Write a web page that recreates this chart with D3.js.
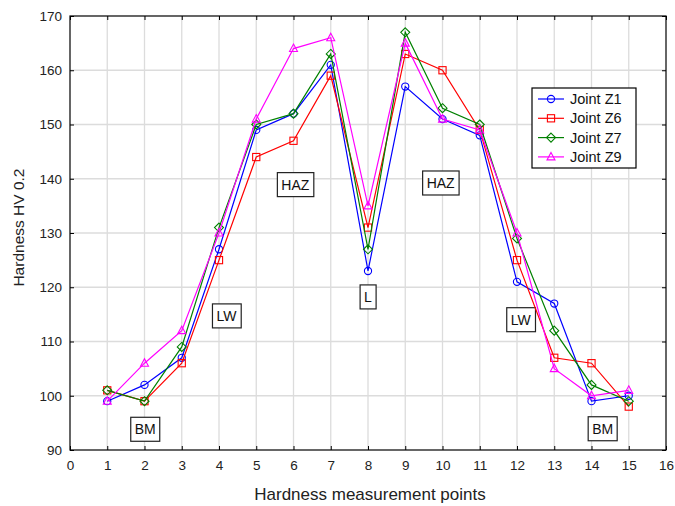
<!DOCTYPE html>
<meta charset="utf-8">
<script src="https://d3js.org/d3.v7.min.js"></script>
<style>
  body { margin: 0; background: #fff; }
  text { font-family: "Liberation Sans", Arial, sans-serif; }
</style>
<div id="my_dataviz"></div>
<script>
    // data
    var points = [1, 2, 3, 4, 5, 6, 7, 8, 9, 10, 11, 12, 13, 14, 15];
    var z1 = [99, 102, 107, 127, 149, 152, 161, 123, 157, 151, 148, 121, 117, 99, 100];
    var z6 = [101, 99, 106, 125, 144, 147, 159, 131, 163, 160, 149, 125, 107, 106, 98];
    var z7 = [101, 99, 109, 131, 150, 152, 163, 127, 167, 153, 150, 129, 112, 102, 99];
    var z9 = [99, 106, 112, 130, 151, 164, 166, 135, 165, 151, 149, 130, 105, 100, 101];
    var seriesNames = ["Joint Z1", "Joint Z6", "Joint Z7", "Joint Z9"];
    var xTicks = d3.range(0, 17);
    var yTicks = [90, 100, 110, 120, 130, 140, 150, 160, 170];
    // zone labels: [x, y, text]
    var zones = [[2.02, 93.8, "BM"], [4.2, 114.7, "LW"], [6.05, 138.9, "HAZ"], [8, 118.2, "L"],
                 [9.95, 139.2, "HAZ"], [12.1, 114.0, "LW"], [14.3, 93.9, "BM"]];

    var margin = { top: 16, right: 9, bottom: 56, left: 70 },
        width = 675 - margin.left - margin.right,
        height = 506 - margin.top - margin.bottom;

    var svg = d3.select("#my_dataviz")
        .append("svg")
        .attr("width", 675)
        .attr("height", 506)
        .append("g")
        .attr("transform", "translate(" + margin.left + "," + margin.top + ")");

    var x = d3.scaleLinear().domain([0, 16]).range([0, width]);
    var y = d3.scaleLinear().domain([90, 170]).range([height, 0]);

    // grid
    svg.append("g").selectAll("line").data(xTicks.slice(1, -1)).enter().append("line")
        .attr("x1", d => x(d)).attr("x2", d => x(d)).attr("y1", 0).attr("y2", height)
        .attr("stroke", "#dcdcdc").attr("stroke-width", 1.3);
    svg.append("g").selectAll("line").data(yTicks.slice(1, -1)).enter().append("line")
        .attr("y1", d => y(d)).attr("y2", d => y(d)).attr("x1", 0).attr("x2", width)
        .attr("stroke", "#dcdcdc").attr("stroke-width", 1.3);

    // frame
    svg.append("rect").attr("width", width).attr("height", height)
        .attr("fill", "none").attr("stroke", "#000").attr("stroke-width", 1.2);

    // axes
    svg.append("g")
        .attr("transform", "translate(0," + height + ")")
        .call(d3.axisBottom(x).tickValues(xTicks).tickSize(-4).tickPadding(10));
    svg.append("g")
        .call(d3.axisLeft(y).tickValues(yTicks).tickSize(-4).tickPadding(8));
    svg.append("g")
        .call(d3.axisTop(x).tickValues(xTicks).tickSize(-4).tickFormat(""));
    svg.append("g").attr("transform", "translate(" + width + ",0)")
        .call(d3.axisRight(y).tickValues(yTicks).tickSize(-4).tickFormat(""));
    svg.selectAll(".domain").remove();
    svg.selectAll(".tick line").attr("stroke", "#000");
    svg.selectAll(".tick text").attr("font-size", 13.5).attr("fill", "#222")
        .style("font-family", "'Liberation Sans', Arial, sans-serif");

    // axis titles
    svg.append("text")
        .attr("text-anchor", "middle")
        .attr("x", (370 - margin.left))
        .attr("y", height + 50)
        .attr("font-size", 17)
        .attr("fill", "#222")
        .text("Hardness measurement points");
    svg.append("text")
        .attr("text-anchor", "middle")
        .attr("transform", "rotate(-90)")
        .attr("x", -y(131))
        .attr("y", -margin.left + 24)
        .attr("font-size", 15.5)
        .attr("fill", "#222")
        .text("Hardness HV 0.2");

    // zone labels
    zones.forEach(function (z) {
        var g = svg.append("g").attr("transform", "translate(" + x(z[0]) + "," + y(z[1]) + ")");
        var t = g.append("text").attr("text-anchor", "middle").attr("dy", "0.35em")
            .attr("font-size", 14).attr("fill", "#111").text(z[2]);
        var bb = t.node().getBBox();
        g.insert("rect", "text")
            .attr("x", bb.x - 4).attr("y", bb.y - 4)
            .attr("width", bb.width + 8).attr("height", bb.height + 8)
            .attr("fill", "#fff").attr("stroke", "#222").attr("stroke-width", 1.2);
    });

    var colors = ["#0000ff", "#ff0000", "#008000", "#ff00ff"];
    var data = [z1, z6, z7, z9];
    var line = d3.line().x((d, i) => x(points[i])).y(d => y(d));

    function marker(g, k, cx, cy) {
        if (k === 0) {
            g.append("circle").attr("cx", cx).attr("cy", cy).attr("r", 3.6);
        } else if (k === 1) {
            g.append("rect").attr("x", cx - 3.6).attr("y", cy - 3.6).attr("width", 7.2).attr("height", 7.2);
        } else if (k === 2) {
            g.append("path").attr("d", "M" + cx + "," + (cy - 4.5) + "L" + (cx + 4.5) + "," + cy +
                "L" + cx + "," + (cy + 4.5) + "L" + (cx - 4.5) + "," + cy + "Z");
        } else {
            g.append("path").attr("d", "M" + cx + "," + (cy - 4.5) + "L" + (cx + 4) + "," + (cy + 3) +
                "L" + (cx - 4) + "," + (cy + 3) + "Z");
        }
    }

    data.forEach(function (vals, k) {
        svg.append("path").datum(vals)
            .attr("fill", "none").attr("stroke", colors[k]).attr("stroke-width", 1.2)
            .attr("d", line);
        var mg = svg.append("g").attr("fill", "none").attr("stroke", colors[k]).attr("stroke-width", 1.1);
        vals.forEach(function (v, i) { marker(mg, k, x(points[i]), y(v)); });
    });

    // legend
    var lg = svg.append("g").attr("transform", "translate(" + (532 - margin.left) + "," + (88 - margin.top) + ")");
    lg.append("rect").attr("width", 104).attr("height", 80)
        .attr("fill", "#fff").attr("stroke", "#000").attr("stroke-width", 1.2);
    seriesNames.forEach(function (name, k) {
        var ly = 11 + k * 19.3;
        lg.append("line").attr("x1", 6).attr("x2", 32).attr("y1", ly).attr("y2", ly)
            .attr("stroke", colors[k]).attr("stroke-width", 1.2);
        var mg = lg.append("g").attr("fill", "none").attr("stroke", colors[k]).attr("stroke-width", 1.1);
        marker(mg, k, 19, ly);
        lg.append("text").attr("x", 38).attr("y", ly).attr("dy", "0.35em")
            .attr("font-size", 14.5).attr("fill", "#111").text(name);
    });
</script>
